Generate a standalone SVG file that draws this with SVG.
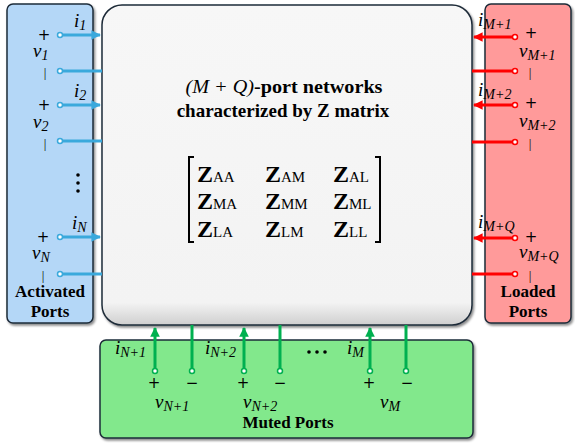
<svg xmlns="http://www.w3.org/2000/svg" width="575" height="444" viewBox="0 0 575 444">
<defs>
<filter id="sh" x="-10%" y="-10%" width="120%" height="120%">
<feDropShadow dx="1.5" dy="2" stdDeviation="1.2" flood-color="#000" flood-opacity="0.45"/>
</filter>
<linearGradient id="cg" x1="0" y1="0" x2="0" y2="1">
<stop offset="0" stop-color="#f7f7f7"/>
<stop offset="0.93" stop-color="#f3f3f3"/>
<stop offset="1" stop-color="#cfcfcf"/>
</linearGradient>
<marker id="ab" viewBox="0 0 10 10" refX="9" refY="5" markerWidth="3.2" markerHeight="3.2" orient="auto" markerUnits="strokeWidth"><path d="M0,0 L10,5 L0,10 z" fill="#3aa9dc"/></marker>
<marker id="ar" viewBox="0 0 10 10" refX="9" refY="5" markerWidth="3.2" markerHeight="3.2" orient="auto" markerUnits="strokeWidth"><path d="M0,0 L10,5 L0,10 z" fill="#ff0000"/></marker>
<marker id="ag" viewBox="0 0 10 10" refX="9" refY="5" markerWidth="3.2" markerHeight="3.2" orient="auto" markerUnits="strokeWidth"><path d="M0,0 L10,5 L0,10 z" fill="#00b050"/></marker>
</defs>
<style>
.box{stroke:#1e2b38;stroke-width:1.5;filter:url(#sh)}
.bl{stroke:#3aa9dc;stroke-width:3;fill:none}
.rl{stroke:#ff0000;stroke-width:3;fill:none}
.gl{stroke:#00b050;stroke-width:3;fill:none}
.cb{fill:#fff;stroke:#3aa9dc;stroke-width:1.5}
.cr{fill:#fff;stroke:#ff0000;stroke-width:1.5}
.cg{fill:#fff;stroke:#00b050;stroke-width:1.5}
.m{font-family:'Liberation Serif',serif;font-style:italic;font-size:19px;fill:#000}
.s{font-size:14px}
.sym{font-family:'DejaVu Sans',sans-serif;font-size:15px;fill:#000;text-anchor:middle}
.bar{font-family:'Liberation Serif',serif;font-size:13px;fill:#000;text-anchor:middle}
.b{font-family:'Liberation Serif',serif;font-weight:bold;font-size:17px;fill:#000;text-anchor:middle}
.t{font-family:'Liberation Serif',serif;font-weight:bold;font-size:19px;fill:#000;text-anchor:middle}
.z{font-family:'Liberation Serif',serif;font-weight:bold;font-size:24px;fill:#000}
.zs{font-weight:normal;font-size:15px}
</style>

<g id="activated-ports">
<rect class="box" x="7" y="4" width="86" height="319" rx="6" fill="#b4d7f7"/>
<text class="b" x="50" y="297">Activated</text>
<text class="b" x="50" y="317">Ports</text>
</g>
<g id="loaded-ports">
<rect class="box" x="485" y="4" width="86" height="319" rx="6" fill="#ff9a9a"/>
<text class="b" x="528" y="297">Loaded</text>
<text class="b" x="528" y="317">Ports</text>
</g>
<g id="muted-ports">
<rect class="box" x="100" y="340" width="373" height="98" rx="6" fill="#82e88c"/>
<text class="b" x="288" y="428" font-size="18">Muted Ports</text>
</g>
<g id="network">
<rect class="box" x="102" y="5" width="370" height="320" rx="20" fill="url(#cg)"/>
<text class="t" x="284" y="93" textLength="197" lengthAdjust="spacingAndGlyphs"><tspan font-style="italic" font-weight="normal">(M + Q)</tspan>-port networks</text>
<text class="t" x="283" y="117">characterized by Z matrix</text>
<g id="matrix">
<path d="M194,157 H189 V242 H194" fill="none" stroke="#000" stroke-width="2"/>
<path d="M375,157 H380 V242 H375" fill="none" stroke="#000" stroke-width="2"/>
<text class="z" x="197" y="182">Z<tspan class="zs">AA</tspan></text>
<text class="z" x="265" y="182">Z<tspan class="zs">AM</tspan></text>
<text class="z" x="333" y="182">Z<tspan class="zs">AL</tspan></text>
<text class="z" x="197" y="209">Z<tspan class="zs">MA</tspan></text>
<text class="z" x="265" y="209">Z<tspan class="zs">MM</tspan></text>
<text class="z" x="333" y="209">Z<tspan class="zs">ML</tspan></text>
<text class="z" x="197" y="237">Z<tspan class="zs">LA</tspan></text>
<text class="z" x="265" y="237">Z<tspan class="zs">LM</tspan></text>
<text class="z" x="333" y="237">Z<tspan class="zs">LL</tspan></text>
</g>
</g>

<g id="connectors">
<line class="bl" x1="62" y1="35" x2="100" y2="35" marker-end="url(#ab)"/>
<line class="bl" x1="62" y1="71" x2="102" y2="71"/>
<line class="bl" x1="62" y1="105" x2="100" y2="105" marker-end="url(#ab)"/>
<line class="bl" x1="62" y1="141" x2="102" y2="141"/>
<line class="bl" x1="62" y1="237" x2="100" y2="237" marker-end="url(#ab)"/>
<line class="bl" x1="62" y1="274" x2="102" y2="274"/>
<circle class="cb" cx="60" cy="35" r="2.5"/>
<circle class="cb" cx="60" cy="71" r="2.5"/>
<circle class="cb" cx="60" cy="105" r="2.5"/>
<circle class="cb" cx="60" cy="141" r="2.5"/>
<circle class="cb" cx="60" cy="237" r="2.5"/>
<circle class="cb" cx="60" cy="274" r="2.5"/>
<line class="rl" x1="513" y1="37" x2="474" y2="37" marker-end="url(#ar)"/>
<line class="rl" x1="513" y1="71" x2="472" y2="71"/>
<line class="rl" x1="513" y1="105" x2="474" y2="105" marker-end="url(#ar)"/>
<line class="rl" x1="513" y1="142" x2="472" y2="142"/>
<line class="rl" x1="513" y1="238" x2="474" y2="238" marker-end="url(#ar)"/>
<line class="rl" x1="513" y1="274" x2="472" y2="274"/>
<circle class="cr" cx="515" cy="37" r="2.5"/>
<circle class="cr" cx="515" cy="71" r="2.5"/>
<circle class="cr" cx="515" cy="105" r="2.5"/>
<circle class="cr" cx="515" cy="142" r="2.5"/>
<circle class="cr" cx="515" cy="238" r="2.5"/>
<circle class="cr" cx="515" cy="274" r="2.5"/>
<line class="gl" x1="155" y1="369" x2="155" y2="328" marker-end="url(#ag)"/>
<line class="gl" x1="192" y1="369" x2="192" y2="325"/>
<line class="gl" x1="244" y1="369" x2="244" y2="328" marker-end="url(#ag)"/>
<line class="gl" x1="280" y1="369" x2="280" y2="325"/>
<line class="gl" x1="370" y1="369" x2="370" y2="328" marker-end="url(#ag)"/>
<line class="gl" x1="406" y1="369" x2="406" y2="325"/>
<circle class="cg" cx="155" cy="371" r="2.5"/>
<circle class="cg" cx="192" cy="371" r="2.5"/>
<circle class="cg" cx="244" cy="371" r="2.5"/>
<circle class="cg" cx="280" cy="371" r="2.5"/>
<circle class="cg" cx="370" cy="371" r="2.5"/>
<circle class="cg" cx="406" cy="371" r="2.5"/>
</g>

<g id="labels">
<text class="m" x="74" y="27">i<tspan class="s" dy="3">1</tspan></text>
<text class="sym" x="44" y="40">+</text>
<text class="m" x="33" y="57">v<tspan class="s" dy="3">1</tspan></text>
<text class="bar" x="45" y="77">|</text>
<text class="m" x="74" y="97">i<tspan class="s" dy="3">2</tspan></text>
<text class="sym" x="44" y="110">+</text>
<text class="m" x="33" y="128">v<tspan class="s" dy="3">2</tspan></text>
<text class="bar" x="45" y="148">|</text>
<circle cx="78" cy="175" r="1.8" fill="#000"/>
<circle cx="78" cy="183" r="1.8" fill="#000"/>
<circle cx="78" cy="191" r="1.8" fill="#000"/>
<text class="m" x="72" y="229">i<tspan class="s" dy="3">N</tspan></text>
<text class="sym" x="43" y="242">+</text>
<text class="m" x="32" y="259">v<tspan class="s" dy="3">N</tspan></text>
<text class="bar" x="43" y="280">|</text>
<text class="m" x="478" y="26">i<tspan class="s" dy="3">M+1</tspan></text>
<text class="sym" x="531" y="38">+</text>
<text class="m" x="519" y="57">v<tspan class="s" dy="3">M+1</tspan></text>
<text class="bar" x="530" y="77">|</text>
<text class="m" x="478" y="96">i<tspan class="s" dy="3">M+2</tspan></text>
<text class="sym" x="531" y="108">+</text>
<text class="m" x="519" y="127">v<tspan class="s" dy="3">M+2</tspan></text>
<text class="bar" x="530" y="148">|</text>
<text class="m" x="478" y="228">i<tspan class="s" dy="3">M+Q</tspan></text>
<text class="sym" x="531" y="242">+</text>
<text class="m" x="519" y="258">v<tspan class="s" dy="3">M+Q</tspan></text>
<text class="bar" x="530" y="280">|</text>
<text class="m" x="115" y="354">i<tspan class="s" dy="3">N+1</tspan></text>
<text class="sym" x="154" y="388">+</text>
<text class="sym" x="192" y="388">−</text>
<text class="m" x="155" y="408">v<tspan class="s" dy="3">N+1</tspan></text>
<text class="m" x="205" y="354">i<tspan class="s" dy="3">N+2</tspan></text>
<text class="sym" x="243" y="388">+</text>
<text class="sym" x="280" y="388">−</text>
<text class="m" x="243" y="408">v<tspan class="s" dy="3">N+2</tspan></text>
<circle cx="309" cy="352" r="1.8" fill="#000"/>
<circle cx="317" cy="352" r="1.8" fill="#000"/>
<circle cx="325" cy="352" r="1.8" fill="#000"/>
<text class="m" x="347" y="354">i<tspan class="s" dy="3">M</tspan></text>
<text class="sym" x="369" y="388">+</text>
<text class="sym" x="407" y="388">−</text>
<text class="m" x="380" y="408">v<tspan class="s" dy="3">M</tspan></text>
</g>
</svg>
